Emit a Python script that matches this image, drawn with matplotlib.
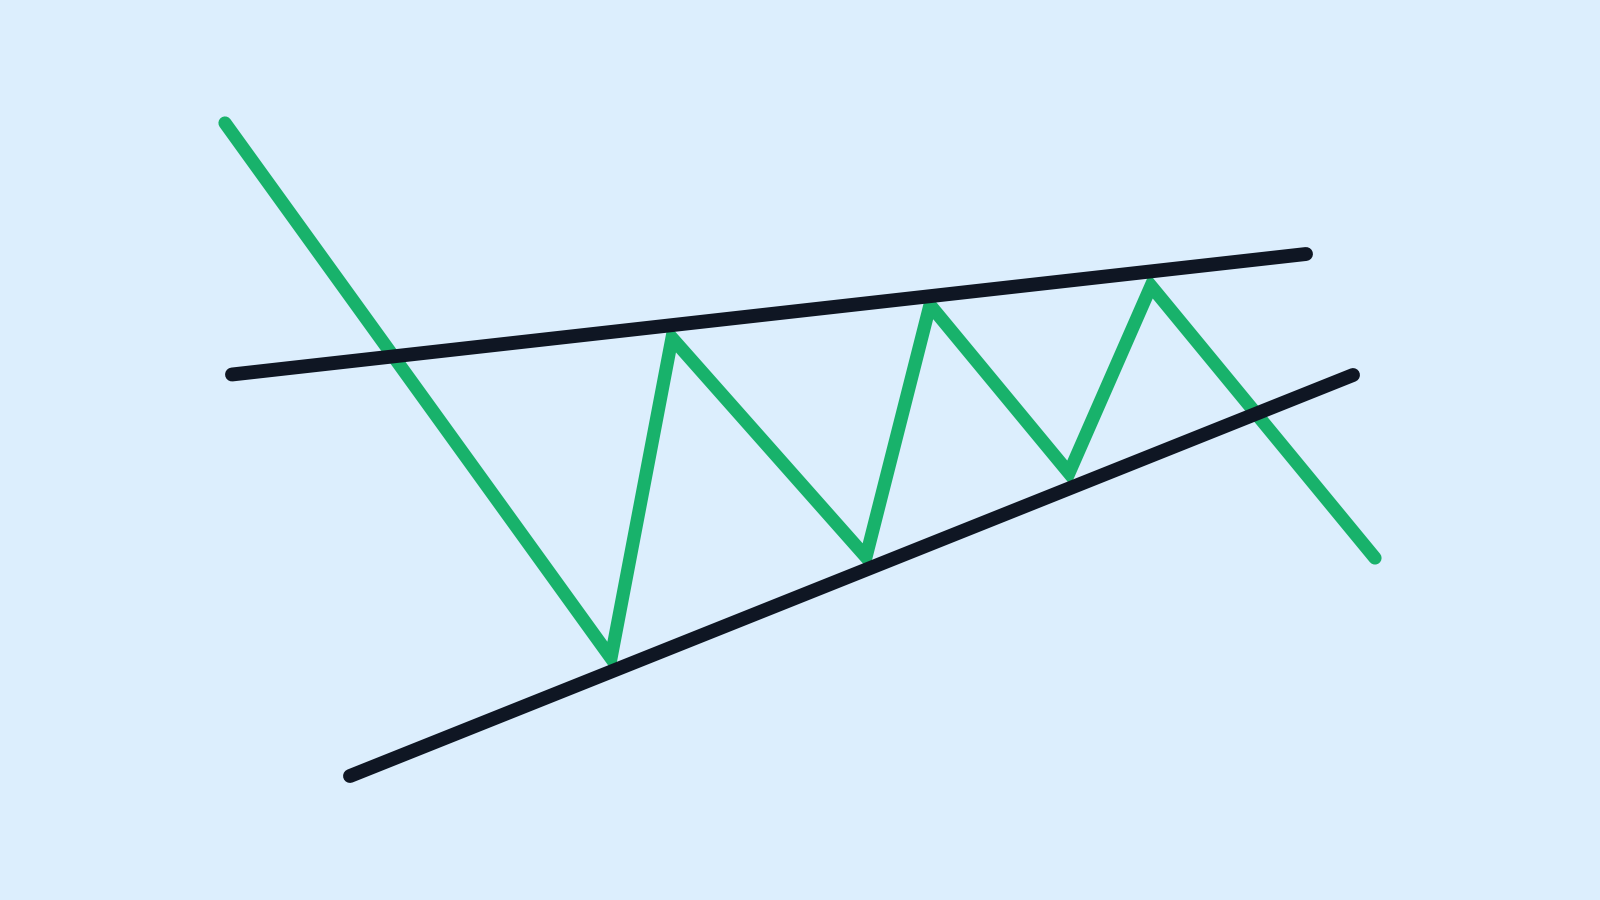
import matplotlib
matplotlib.use("Agg")
import matplotlib.pyplot as plt

# Price path (green zigzag), in picture coordinates (x right, y down)
price_x = [225, 611, 672, 866, 930, 1069, 1151, 1375]
price_y = [123, 658, 338, 557, 305, 473, 286, 558]

# Upper trend line
upper_x = [232, 1306]
upper_y = [374.5, 254]

# Lower trend line
lower_x = [350, 1353]
lower_y = [776, 375]

BG = "#DCEEFD"
GREEN = "#18B26B"
DARK = "#0F1623"

fig = plt.figure(figsize=(16, 9), dpi=100)
fig.patch.set_facecolor(BG)
ax = fig.add_axes([0, 0, 1, 1])
ax.set_facecolor(BG)
ax.set_xlim(0, 1600)
ax.set_ylim(900, 0)
ax.axis("off")

ax.plot(price_x, price_y, color=GREEN, lw=9.5, solid_joinstyle="miter",
        solid_capstyle="round", zorder=2)
ax.plot(upper_x, upper_y, color=DARK, lw=10, solid_capstyle="round", zorder=3)
ax.plot(lower_x, lower_y, color=DARK, lw=10, solid_capstyle="round", zorder=3)

fig.savefig("out.png", dpi=100, facecolor=BG)
